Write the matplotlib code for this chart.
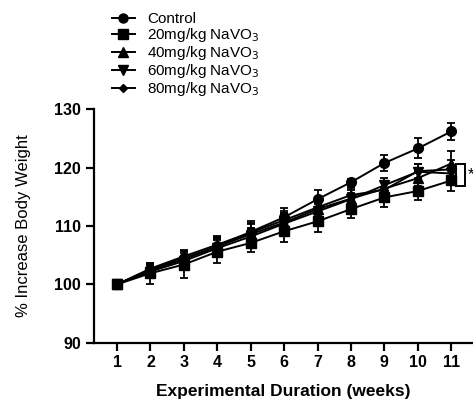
import numpy as np
import matplotlib
matplotlib.use('Agg')
import matplotlib.pyplot as plt
from matplotlib.patches import Rectangle
from matplotlib.lines import Line2D

plt.rcParams['font.family'] = ['Liberation Sans', 'DejaVu Sans']

weeks = [1, 2, 3, 4, 5, 6, 7, 8, 9, 10, 11]

control = [100, 102.5, 104.5, 106.5, 109.0, 111.5, 114.6, 117.5, 120.8, 123.3, 126.2]
dose20 = [100, 101.9, 103.4, 105.6, 107.1, 109.1, 110.8, 112.9, 114.9, 116.0, 117.8]
dose40 = [100, 102.4, 104.3, 106.5, 108.6, 110.6, 112.9, 114.7, 116.4, 118.2, 120.7]
dose60 = [100, 102.2, 104.0, 106.2, 108.2, 110.4, 112.5, 114.6, 117.0, 119.3, 119.0]
dose80 = [100, 102.7, 104.8, 106.8, 108.9, 111.0, 113.2, 115.3, 116.2, 119.4, 119.7]

control_err = [0, 0.9, 1.2, 1.4, 1.6, 1.5, 1.5, 0.6, 1.4, 1.7, 1.5]
dose20_err = [0, 1.8, 2.3, 2.0, 1.6, 1.9, 1.8, 1.5, 1.6, 1.6, 1.8]
dose40_err = [0, 1.2, 1.5, 1.8, 2.2, 2.0, 1.4, 1.4, 1.2, 1.4, 2.2]
dose60_err = [0, 1.0, 1.3, 1.5, 1.5, 1.8, 1.2, 1.0, 1.3, 1.3, 1.4]
dose80_err = [0, 0.8, 1.1, 1.3, 1.4, 1.3, 1.3, 1.2, 1.5, 1.2, 1.6]

labels = ['Control', '20mg/kg NaVO$_3$', '40mg/kg NaVO$_3$',
          '60mg/kg NaVO$_3$', '80mg/kg NaVO$_3$']
markers = ['o', 's', '^', 'v', 'D']
msizes = [7, 7, 7, 7, 4.5]

series = [control, dose20, dose40, dose60, dose80]
errors = [control_err, dose20_err, dose40_err, dose60_err, dose80_err]

fig = plt.figure(figsize=(4.73, 4.01), dpi=100)
ax = fig.add_axes([0.198, 0.1454, 0.802, 0.582])

handles = []
for vals, err, mk, ms, lab in zip(series, errors, markers, msizes, labels):
    ax.errorbar(weeks, vals, yerr=err, color='black', marker=mk, markersize=ms,
                linewidth=1.4, elinewidth=1.3, capsize=3.2, capthick=1.3)
    # legend entry without the error bars
    handles.append(Line2D([], [], color='black', marker=mk, markersize=ms - 0.5,
                          linewidth=1.4, label=lab))

# significance bracket over the treated groups at week 11
ax.add_patch(Rectangle((11.13, 116.9), 0.27, 3.8, fill=False, edgecolor='black',
                       linewidth=1.4, clip_on=False))
ax.text(11.5, 118.8, '*', fontsize=12, ha='left', va='center', clip_on=False)

ax.set_xlim(0.3, 11.65)
ax.set_ylim(90, 130)
ax.set_xticks(weeks)
ax.set_yticks([90, 100, 110, 120, 130])

for side in ['top', 'right']:
    ax.spines[side].set_visible(False)
for side in ['left', 'bottom']:
    ax.spines[side].set_linewidth(1.6)
ax.tick_params(width=1.6, length=6, pad=3)
for lab in ax.get_xticklabels() + ax.get_yticklabels():
    lab.set_fontsize(11.5)
    lab.set_fontweight('bold')

ax.set_xlabel('Experimental Duration (weeks)', fontsize=12.5, fontweight='bold', labelpad=10)
ax.set_ylabel('% Increase Body Weight', fontsize=12, labelpad=17)

fig.legend(handles=handles, loc='upper left', bbox_to_anchor=(0.215, 0.997),
           frameon=False, fontsize=11, handlelength=1.45, handletextpad=0.8,
           labelspacing=0.0, borderpad=0.2)

fig.savefig('out.png', dpi=100)
